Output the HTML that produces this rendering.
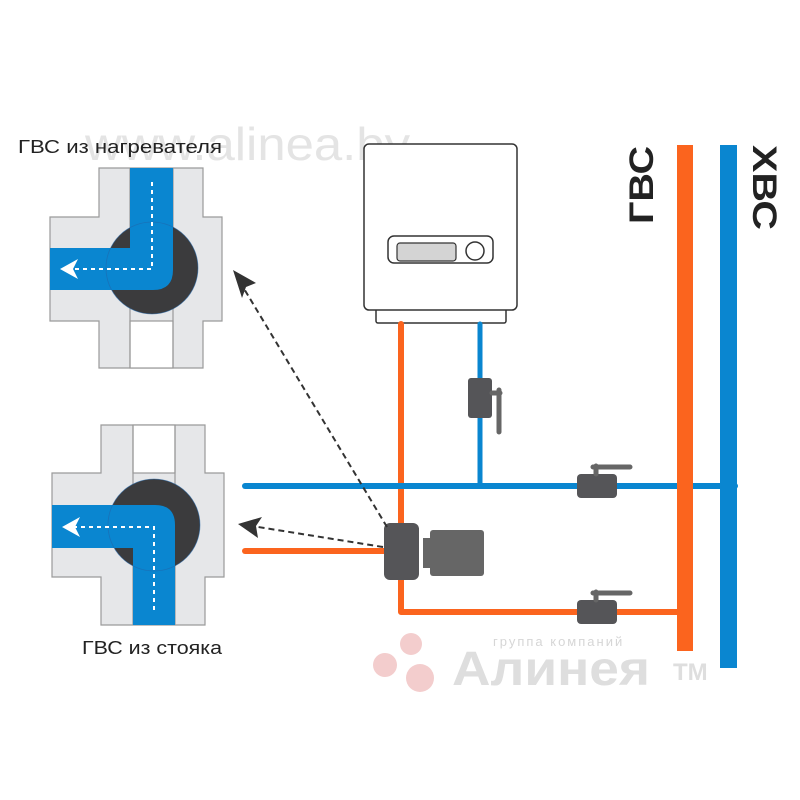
<!DOCTYPE html>
<html><head><meta charset="utf-8"><style>
body{margin:0;background:#fff}
svg{display:block}
text{font-family:"Liberation Sans","DejaVu Sans",sans-serif}
</style></head><body>
<svg width="800" height="800" viewBox="0 0 800 800" xmlns="http://www.w3.org/2000/svg">
<rect width="800" height="800" fill="#fff"/>
<!-- watermark -->
<text x="85" y="160" font-size="46" fill="#e4e4e4" textLength="325" lengthAdjust="spacingAndGlyphs">www.alinea.by</text>
<text x="18" y="153" font-size="18" fill="#222" textLength="204" lengthAdjust="spacingAndGlyphs">ГВС из нагревателя</text>
<text x="82" y="654" font-size="18" fill="#222" textLength="140" lengthAdjust="spacingAndGlyphs">ГВС из стояка</text>

<!-- top valve -->
<g stroke="#9a9a9a" stroke-width="1.2">
<path d="M99 168 H203 V217 H222 V321 H203 V368 H99 V321 H50 V217 H99 Z" fill="#e6e7e9"/>
<rect x="130" y="321" width="43" height="47" fill="#fff"/>
<path d="M130 168 V368 M173 168 V368" fill="none"/>
</g>
<circle cx="152" cy="268" r="46" fill="#3b3b3d"/>
<path d="M130 168 H173 V270 Q173 290 153 290 H50 V248 H130 Z" fill="#0a86d0"/>
<circle cx="152" cy="268" r="46" fill="none" stroke="#2266aa" stroke-width="0.8" opacity="0.6"/>
<path d="M152 182 V269 H72" stroke="#fff" stroke-width="2" stroke-dasharray="4 4" fill="none"/>
<path d="M60 269 L78 259 L73 269 L78 279 Z" fill="#fff"/>

<!-- bottom valve -->
<g stroke="#9a9a9a" stroke-width="1.2">
<path d="M101 425 H205 V473 H224 V577 H205 V625 H101 V577 H52 V473 H101 Z" fill="#e6e7e9"/>
<rect x="133" y="425" width="42" height="48" fill="#fff"/>
<path d="M133 425 V625 M175 425 V625" fill="none"/>
</g>
<circle cx="154" cy="525" r="46" fill="#3b3b3d"/>
<path d="M52 505 H155 Q175 505 175 525 V625 H133 V548 H52 Z" fill="#0a86d0"/>
<circle cx="154" cy="525" r="46" fill="none" stroke="#2266aa" stroke-width="0.8" opacity="0.6"/>
<path d="M154 610 V527 H74" stroke="#fff" stroke-width="2" stroke-dasharray="4 4" fill="none"/>
<path d="M62 527 L80 517 L75 527 L80 537 Z" fill="#fff"/>

<!-- heater -->
<rect x="376" y="305" width="130" height="18" rx="2" fill="#fff" stroke="#333" stroke-width="1.5"/>
<rect x="364" y="144" width="153" height="166" rx="5" fill="#fff" stroke="#333" stroke-width="1.5"/>
<rect x="388" y="236" width="105" height="27" rx="6" fill="#fff" stroke="#333" stroke-width="1.5"/>
<rect x="397" y="243" width="59" height="18" rx="3" fill="#d4d4d4" stroke="#333" stroke-width="1.2"/>
<circle cx="475" cy="251" r="9" fill="#fff" stroke="#333" stroke-width="1.5"/>

<!-- pipes -->
<g fill="none" stroke-linecap="round">
<path d="M401 324 V612 H685" stroke="#fb641e" stroke-width="6" stroke-linejoin="round"/>
<path d="M480 324 V486" stroke="#0a86d0" stroke-width="5"/>
<path d="M245 486 H735" stroke="#0a86d0" stroke-width="6"/>
<path d="M245 551 H390" stroke="#fb641e" stroke-width="6"/>
</g>
<rect x="677" y="145" width="16" height="506" fill="#fb641e"/>
<rect x="720" y="145" width="17" height="523" fill="#0a86d0"/>

<text transform="translate(653,224) rotate(-90)" font-size="34" font-weight="bold" fill="#222" textLength="78" lengthAdjust="spacingAndGlyphs">ГВС</text>
<text transform="translate(753,145) rotate(90)" font-size="34" font-weight="bold" fill="#222" textLength="85" lengthAdjust="spacingAndGlyphs">ХВС</text>

<!-- small valve on blue vertical -->
<rect x="468" y="378" width="24" height="40" rx="3" fill="#555558"/>
<path d="M492 393 H500 M499 390 V432" stroke="#666" stroke-width="5" stroke-linecap="round"/>
<!-- ball valves -->
<g fill="#555558">
<rect x="577" y="474" width="40" height="24" rx="4"/>
<rect x="577" y="600" width="40" height="24" rx="4"/>
</g>
<path d="M596 474 V466 M593 467 H630 M596 600 V592 M593 593 H630" stroke="#666" stroke-width="5" stroke-linecap="round"/>

<!-- mixing valve -->
<rect x="423" y="538" width="10" height="30" fill="#666"/>
<rect x="430" y="530" width="54" height="46" rx="3" fill="#666"/>
<rect x="384" y="523" width="35" height="57" rx="6" fill="#555558"/>

<!-- dashed arrows -->
<g stroke="#333" stroke-width="2" stroke-dasharray="6 4" fill="none">
<path d="M387 527 L243 287"/>
<path d="M383 547 L252 526"/>
</g>
<path d="M233 270 L256 283 L246 287 L242 298 Z" fill="#333"/>
<path d="M238 524 L262 517 L256 526 L258 538 Z" fill="#333"/>

<!-- logo -->
<g fill="#f3cdcd">
<circle cx="411" cy="644" r="11"/>
<circle cx="385" cy="665" r="12"/>
<circle cx="420" cy="678" r="14"/>
</g>
<text x="493" y="646" font-size="13" fill="#d6d6d6" letter-spacing="2">группа компаний</text>
<text x="452" y="685" font-size="48" font-weight="bold" fill="#dedede" textLength="198" lengthAdjust="spacingAndGlyphs">Алинея</text>
<text x="673" y="680" font-size="24" font-weight="bold" fill="#dedede">ТМ</text>
</svg>
</body></html>
